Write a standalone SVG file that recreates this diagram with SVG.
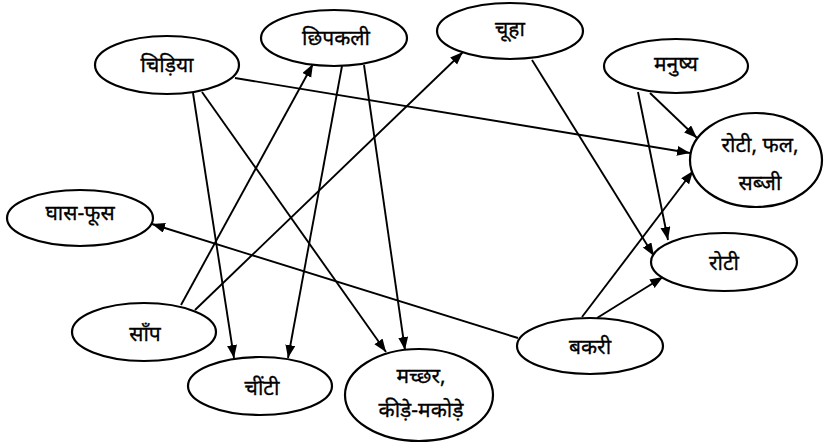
<svg xmlns="http://www.w3.org/2000/svg" width="824" height="444" viewBox="0 0 824 444">
<defs>
<marker id="ah" markerUnits="userSpaceOnUse" markerWidth="15" markerHeight="11" refX="13" refY="5" orient="auto">
<path d="M0,0 L13,5 L0,10 z" fill="#000"/>
</marker>
<style>
.n ellipse{fill:#fff;stroke:#000;stroke-width:2.2}
.n text{font-family:"Noto Sans","Noto Sans Devanagari","Lohit Devanagari",sans-serif;font-size:21px;fill:#000;stroke:#000;stroke-width:0.3;text-anchor:middle;dominant-baseline:central}
#edges line{stroke:#000;stroke-width:1.9;marker-end:url(#ah)}
</style>
</defs>
<rect width="824" height="444" fill="#fff"/>
<g id="edges">
<line x1="235" y1="78" x2="690" y2="153"/>
<line x1="193" y1="93" x2="234" y2="358"/>
<line x1="202" y1="92" x2="386" y2="352"/>
<line x1="181" y1="305" x2="313" y2="64"/>
<line x1="195" y1="310" x2="463" y2="52"/>
<line x1="342" y1="66" x2="288" y2="358"/>
<line x1="364" y1="65" x2="405" y2="350"/>
<line x1="532" y1="60" x2="654" y2="256"/>
<line x1="650" y1="93" x2="697" y2="138"/>
<line x1="638" y1="92" x2="668" y2="240"/>
<line x1="582" y1="317" x2="693" y2="171"/>
<line x1="597" y1="318" x2="663" y2="277"/>
<line x1="518" y1="338" x2="152" y2="224"/>
</g>
<g id="chidiya" class="n"><ellipse cx="167" cy="65" rx="72" ry="29"/><text x="167" y="64">चिड़िया</text></g>
<g id="chipkali" class="n"><ellipse cx="334" cy="38" rx="73" ry="28"/><text x="336" y="37">छिपकली</text></g>
<g id="chuha" class="n"><ellipse cx="510" cy="31" rx="73" ry="28"/><text x="510" y="28">चूहा</text></g>
<g id="manushya" class="n"><ellipse cx="676" cy="66" rx="72" ry="27"/><text x="676" y="63">मनुष्य</text></g>
<g id="roti-phal-sabji" class="n"><ellipse cx="756" cy="160" rx="66" ry="47"/><text x="760" y="144">रोटी, फल,</text><text x="760" y="182">सब्जी</text></g>
<g id="ghas-phus" class="n"><ellipse cx="80" cy="218" rx="73" ry="28"/><text x="80" y="212">घास-फूस</text></g>
<g id="roti" class="n"><ellipse cx="724" cy="262" rx="73" ry="29"/><text x="724" y="262">रोटी</text></g>
<g id="saanp" class="n"><ellipse cx="144" cy="332" rx="72" ry="29"/><text x="145" y="333">साँप</text></g>
<g id="chinti" class="n"><ellipse cx="260" cy="386" rx="72" ry="29"/><text x="262" y="387">चींटी</text></g>
<g id="machchhar" class="n"><ellipse cx="419" cy="395" rx="74" ry="46"/><text x="421" y="375">मच्छर,</text><text x="421" y="409">कीड़े-मकोड़े</text></g>
<g id="bakri" class="n"><ellipse cx="590" cy="346" rx="73" ry="28"/><text x="590" y="346">बकरी</text></g>
</svg>
